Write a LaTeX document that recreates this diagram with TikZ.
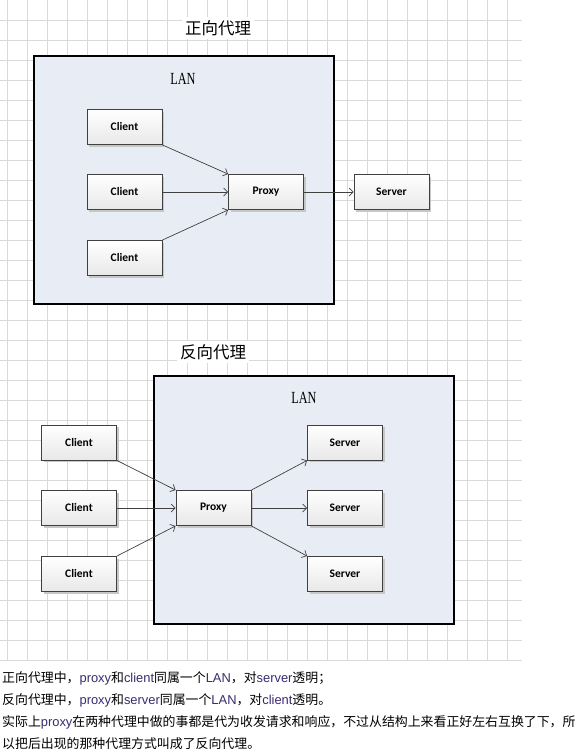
\documentclass[tikz,border=0pt]{standalone}
\usepackage{fontspec}
\setmainfont{Liberation Sans}
\newfontfamily\cjk{Noto Sans CJK SC}
\newfontfamily\boxfont{Carlito}
\newfontfamily\lanfont[FakeStretch = 0.72]{Liberation Serif}
\usetikzlibrary{arrows.meta}
\usetikzlibrary{shadows}

\definecolor{gridgray}{RGB}{217,217,217}
\definecolor{lanfill}{RGB}{232,237,245}
\definecolor{boxline}{RGB}{64,64,64}
\definecolor{latword}{RGB}{58,42,110}
\newcommand\latw[1]{{\setmainfont{Liberation Sans}\normalfont\color{latword}#1}}

\begin{document}
\begin{tikzpicture}[x = 1pt, y = -1pt,
  unit/.style = {draw = boxline, line width = .9pt, top color = white,
  bottom color = black!9, minimum width = 75pt, minimum height = 35pt,
  inner sep = 0pt, font = \boxfont\bfseries\fontsize{11.5}{13}\selectfont,
  drop shadow = {shadow xshift = 2pt, shadow yshift = -2pt,
  fill = black!22, opacity = 1}},
  lan/.style = {draw = black, line width = 1.2pt, fill = lanfill},
  lanlabel/.style = {font = \lanfont\fontsize{17}{19}\selectfont},
  link/.style = {draw = boxline, line width = .7pt,
  -{Straight Barb[length = 4pt, width = 8pt]}},
  title/.style = {font = \cjk\fontsize{16.5}{18}\selectfont, fill = white,
  inner sep = 3pt},
  note/.style = {anchor = base west, inner sep = 0pt,
  font = \cjk\fontsize{12.9}{16}\selectfont}]
  \useasboundingbox (0, 0) rectangle (586, 750);

  % grid paper
  \foreach \gx in {7, 27, ..., 507}
    \draw[gridgray, line width = .8pt] (\gx, 0) -- (\gx, 660);
  \foreach \gy in {20, 40, ..., 660}
    \draw[gridgray, line width = .8pt] (0, \gy) -- (522, \gy);

  % forward proxy
  \node[title] (fwdtitle) at (218, 28) {正向代理};
  \draw[lan] (34, 56) rectangle (334, 304);
  \node[lanlabel] (fwdlan) at (183, 79) {LAN};

  \node[unit] (cliA) at (124.5, 127) {Client};
  \node[unit] (cliB) at (124.5, 192) {Client};
  \node[unit] (cliC) at (124.5, 258) {Client};
  \node[unit] (prx) at (266, 192) {Proxy};
  \node[unit] (srv) at (391.5, 192) {Server};

  \draw[link] (cliA.south east) -- (prx.north west);
  \draw[link] (cliB) -- (prx);
  \draw[link] (cliC.north east) -- (prx.south west);
  \draw[link] (prx) -- (srv);

  % reverse proxy
  \node[title] (revtitle) at (213, 352) {反向代理};
  \draw[lan] (154, 376) rectangle (454, 624);
  \node[lanlabel] (revlan) at (304, 398) {LAN};

  \node[unit] (rcliA) at (79, 442.5) {Client};
  \node[unit] (rcliB) at (79, 508) {Client};
  \node[unit] (rcliC) at (79, 574) {Client};
  \node[unit] (rprx) at (213.5, 508) {Proxy};
  \node[unit] (rsrvA) at (345, 442.5) {Server};
  \node[unit] (rsrvB) at (345, 508) {Server};
  \node[unit] (rsrvC) at (345, 574) {Server};

  \draw[link] (rcliA.south east) -- (rprx.north west);
  \draw[link] (rcliB) -- (rprx);
  \draw[link] (rcliC.north east) -- (rprx.south west);
  \draw[link] (rprx.north east) -- (rsrvA.south west);
  \draw[link] (rprx) -- (rsrvB);
  \draw[link] (rprx.south east) -- (rsrvC.north west);

  % notes
  \node[note] (noteA) at (2, 682)
    {正向代理中，\latw{proxy}和\latw{client}同属一个\latw{LAN}，对\latw{server}透明；};
  \node[note] (noteB) at (2, 704)
    {反向代理中，\latw{proxy}和\latw{server}同属一个\latw{LAN}，对\latw{client}透明。};
  \node[note] (noteC) at (2, 726)
    {实际上\latw{proxy}在两种代理中做的事都是代为收发请求和响应，不过从结构上来看正好左右互换了下，所};
  \node[note] (noteD) at (2, 748)
    {以把后出现的那种代理方式叫成了反向代理。};
\end{tikzpicture}
\end{document}
